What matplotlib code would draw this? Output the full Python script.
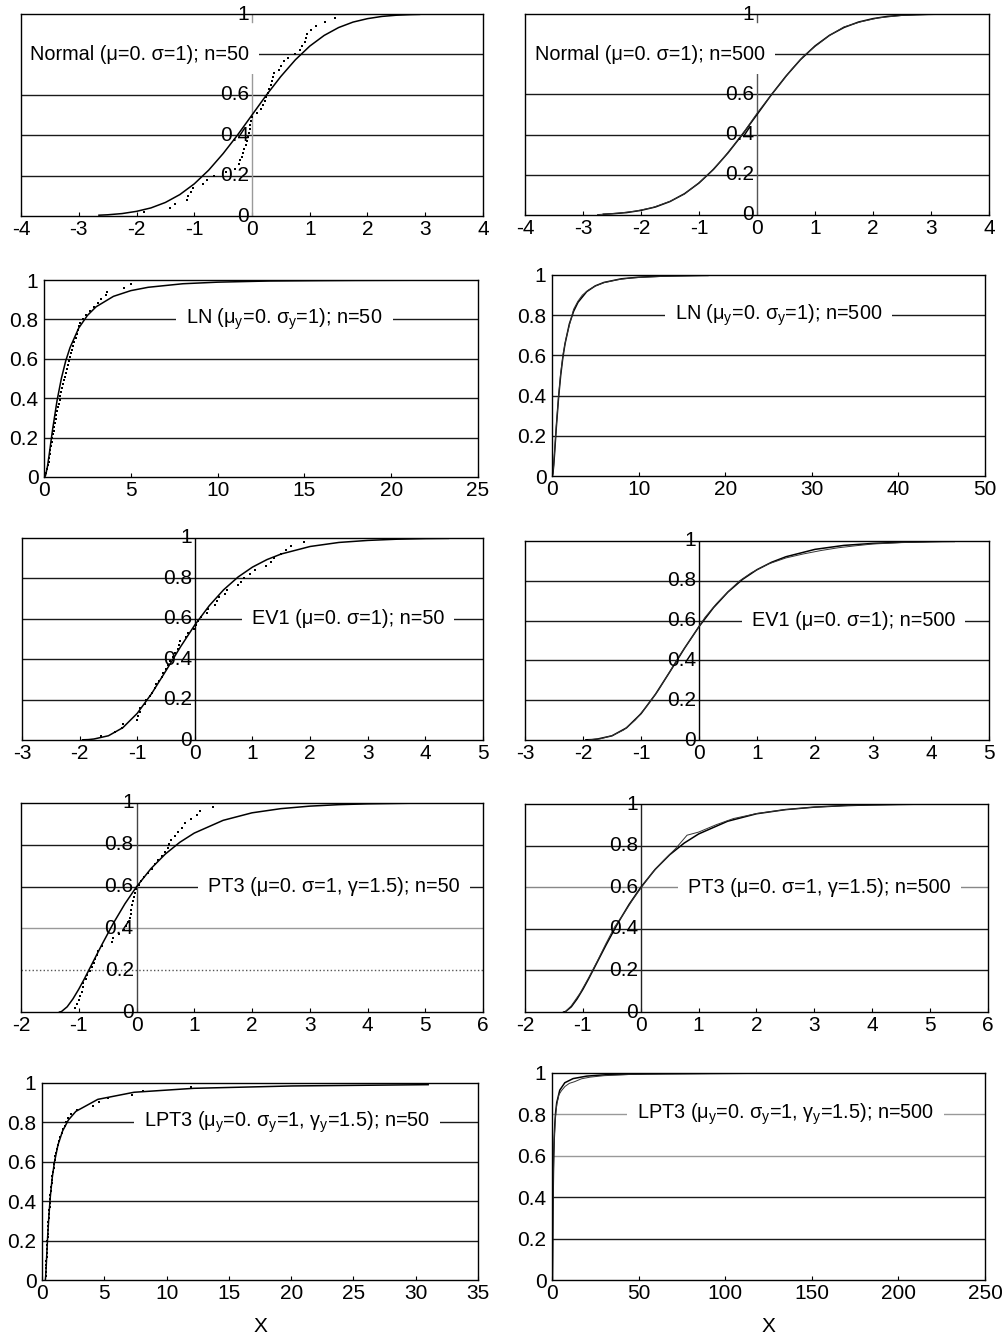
import matplotlib
matplotlib.use('Agg')
import matplotlib.pyplot as plt
import numpy as np

plt.rcParams['font.family'] = ['Liberation Sans', 'DejaVu Sans']
plt.rcParams['mathtext.fontset'] = 'custom'
plt.rcParams['mathtext.rm'] = 'Liberation Sans'
plt.rcParams['mathtext.it'] = 'Liberation Sans'
plt.rcParams['axes.unicode_minus'] = False

# plotting positions of the 50 ranked values
pp50 = [0.020, 0.039, 0.059, 0.078, 0.098, 0.118, 0.137, 0.157, 0.176, 0.196,
        0.216, 0.235, 0.255, 0.275, 0.294, 0.314, 0.333, 0.353, 0.373, 0.392,
        0.412, 0.431, 0.451, 0.471, 0.490, 0.510, 0.529, 0.549, 0.569, 0.588,
        0.608, 0.627, 0.647, 0.667, 0.686, 0.706, 0.725, 0.745, 0.765, 0.784,
        0.804, 0.824, 0.843, 0.863, 0.882, 0.902, 0.922, 0.941, 0.961, 0.980]

# ---- Normal
norm_x = [-2.65, -2.5, -2.25, -2, -1.75, -1.5, -1.25, -1, -0.75, -0.5, -0.25, 0,
          0.25, 0.5, 0.75, 1, 1.25, 1.5, 1.75, 2, 2.25, 2.5, 2.75, 2.9, 3.1]
norm_F = [0.004, 0.006, 0.012, 0.023, 0.040, 0.067, 0.106, 0.159, 0.227, 0.309, 0.401, 0.5,
          0.599, 0.691, 0.773, 0.841, 0.894, 0.933, 0.960, 0.977, 0.988, 0.994, 0.997, 0.998, 0.999]
norm50 = [-1.87, -1.42, -1.33, -1.13, -1.10, -1.05, -1.02, -0.84, -0.78, -0.65,
          -0.45, -0.30, -0.22, -0.20, -0.17, -0.15, -0.13, -0.11, -0.09, -0.07,
          -0.05, -0.04, -0.03, -0.02, 0.0, 0.08, 0.15, 0.19, 0.22, 0.25,
          0.28, 0.30, 0.33, 0.34, 0.36, 0.38, 0.46, 0.50, 0.55, 0.63,
          0.74, 0.83, 0.86, 0.92, 0.93, 0.95, 1.03, 1.10, 1.26, 1.44]
norm500_x = [-2.75, -2.4, -2.1, -1.8, -1.5, -1.25, -1.0, -0.8, -0.6, -0.4, -0.2, 0.0,
             0.2, 0.4, 0.6, 0.8, 1.0, 1.25, 1.5, 1.8, 2.1, 2.5, 3.1]
norm500_F = [0.002, 0.009, 0.019, 0.037, 0.068, 0.104, 0.161, 0.214, 0.276, 0.348, 0.423, 0.506,
             0.581, 0.652, 0.726, 0.790, 0.838, 0.893, 0.936, 0.962, 0.981, 0.993, 0.999]

# ---- Lognormal
ln_x = [0, 0.05, 0.1, 0.2, 0.3, 0.4, 0.5, 0.75, 1, 1.25, 1.5, 2, 2.5, 3, 4, 5, 6, 8,
        10, 13, 16, 18, 22]
ln_F = [0, 0.001, 0.011, 0.054, 0.114, 0.180, 0.244, 0.387, 0.5, 0.589, 0.657, 0.756,
        0.820, 0.864, 0.917, 0.946, 0.963, 0.981, 0.989, 0.995, 0.997, 0.998, 0.999]
ln50 = [0.12, 0.17, 0.22, 0.26, 0.30, 0.34, 0.37, 0.40, 0.44, 0.47,
        0.50, 0.55, 0.59, 0.63, 0.68, 0.72, 0.77, 0.81, 0.86, 0.90,
        0.95, 1.00, 1.05, 1.10, 1.15, 1.20, 1.26, 1.31, 1.37, 1.42,
        1.48, 1.55, 1.62, 1.68, 1.75, 1.82, 1.88, 1.95, 2.02, 2.10,
        2.25, 2.40, 2.65, 2.90, 3.10, 3.30, 3.55, 3.65, 4.60, 5.00]
ln500_x = [0.05, 0.15, 0.3, 0.5, 0.75, 1.0, 1.3, 1.6, 2.0, 2.5, 3.0, 3.5, 4.2, 5.0,
           6.0, 7.5, 9.0, 11, 14, 18]
ln500_F = [0.001, 0.03, 0.12, 0.25, 0.39, 0.51, 0.61, 0.68, 0.75, 0.83, 0.87, 0.90, 0.925,
           0.945, 0.962, 0.976, 0.985, 0.99, 0.995, 0.998]

# ---- EV1
ev_x = [-1.95, -1.85, -1.75, -1.5, -1.25, -1, -0.75, -0.5, -0.25, 0, 0.25, 0.5, 0.75,
        1, 1.25, 1.5, 2, 2.5, 3, 3.5, 4, 4.4]
ev_F = [0.001, 0.002, 0.005, 0.021, 0.061, 0.132, 0.230, 0.344, 0.461, 0.570, 0.665,
        0.744, 0.807, 0.856, 0.893, 0.921, 0.958, 0.978, 0.988, 0.994, 0.997, 0.998]
ev50 = [-1.63, -1.38, -1.27, -1.24, -1.00, -0.98, -0.96, -0.95, -0.86, -0.84,
        -0.78, -0.75, -0.70, -0.67, -0.62, -0.57, -0.55, -0.50, -0.46, -0.43,
        -0.38, -0.35, -0.30, -0.28, -0.25, -0.16, -0.12, -0.02, 0.02, 0.06,
        0.10, 0.21, 0.22, 0.35, 0.38, 0.42, 0.52, 0.56, 0.75, 0.80,
        0.86, 0.95, 1.05, 1.23, 1.32, 1.38, 1.50, 1.58, 1.66, 1.90]
ev500_x = [-1.9, -1.7, -1.5, -1.3, -1.1, -0.9, -0.7, -0.5, -0.3, -0.1, 0.1, 0.3, 0.5,
           0.7, 0.9, 1.2, 1.5, 1.8, 2.1, 2.4, 2.7, 3.0, 3.5, 4.0, 4.4]
ev500_F = [0.001, 0.006, 0.022, 0.05, 0.10, 0.17, 0.25, 0.345, 0.44, 0.525, 0.615, 0.685,
           0.745, 0.80, 0.84, 0.885, 0.915, 0.935, 0.952, 0.966, 0.976, 0.985, 0.992,
           0.996, 0.999]

# ---- PT3
pt_x = [-1.333, -1.3, -1.2, -1.1, -1, -0.9, -0.8, -0.6, -0.4, -0.2, 0, 0.25, 0.5,
        0.75, 1, 1.5, 2, 2.5, 3, 3.5, 4, 4.75]
pt_F = [0, 0.002, 0.025, 0.063, 0.109, 0.160, 0.214, 0.322, 0.425, 0.518, 0.599,
        0.686, 0.756, 0.812, 0.856, 0.917, 0.953, 0.973, 0.985, 0.992, 0.996, 0.999]
pt50 = [-1.06, -1.03, -1.00, -0.97, -0.95, -0.93, -0.92, -0.88, -0.85, -0.80,
        -0.77, -0.74, -0.71, -0.68, -0.66, -0.60, -0.42, -0.40, -0.30, -0.22,
        -0.18, -0.14, -0.12, -0.10, -0.09, -0.07, -0.06, -0.05, -0.03, -0.01,
        0.04, 0.08, 0.13, 0.20, 0.26, 0.32, 0.38, 0.44, 0.50, 0.54,
        0.57, 0.60, 0.66, 0.71, 0.78, 0.84, 0.94, 1.05, 1.10, 1.33]
pt500_x = [-1.3, -1.2, -1.05, -0.9, -0.75, -0.6, -0.45, -0.3, -0.15, 0.0, 0.2, 0.4,
           0.6, 0.8, 1.0, 1.3, 1.6, 2.0, 2.5, 3.0, 3.6, 4.3, 4.8]
pt500_F = [0.002, 0.03, 0.09, 0.165, 0.245, 0.33, 0.41, 0.47, 0.535, 0.595, 0.67, 0.73,
           0.785, 0.85, 0.865, 0.90, 0.93, 0.954, 0.973, 0.985, 0.993, 0.997, 0.999]

# ---- LPT3
lpt_x = [0.264, 0.273, 0.301, 0.333, 0.368, 0.407, 0.449, 0.549, 0.670, 0.819, 1.0,
         1.284, 1.649, 2.117, 2.718, 4.482, 7.389, 12.18, 20.09, 31.0, 54.6, 115.6, 210]
lpt_F = [0, 0.002, 0.025, 0.063, 0.109, 0.160, 0.214, 0.322, 0.425, 0.518, 0.599,
         0.686, 0.756, 0.812, 0.856, 0.917, 0.953, 0.973, 0.985, 0.9915, 0.996, 0.999, 0.9995]
lpt50 = [0.30, 0.31, 0.33, 0.34, 0.36, 0.375, 0.39, 0.41, 0.42, 0.44,
         0.45, 0.47, 0.49, 0.50, 0.52, 0.54, 0.56, 0.58, 0.61, 0.63,
         0.66, 0.68, 0.71, 0.74, 0.77, 0.80, 0.84, 0.88, 0.93, 0.97,
         1.02, 1.08, 1.15, 1.21, 1.28, 1.38, 1.48, 1.58, 1.72, 1.86,
         1.95, 2.05, 2.30, 2.80, 4.10, 4.60, 5.30, 7.20, 8.10, 12.0]
lpt500_x = [0.27, 0.3, 0.4, 0.55, 0.75, 1.0, 1.4, 2.0, 2.8, 4.0, 5.5, 7.5, 10, 13, 17,
            22, 30, 45, 65, 100, 150, 210]
lpt500_F = [0.002, 0.03, 0.15, 0.32, 0.48, 0.6, 0.7, 0.79, 0.85, 0.895, 0.915, 0.935,
            0.95, 0.958, 0.972, 0.98, 0.987, 0.993, 0.996, 0.998, 0.9993, 0.9997]

W, H = 1003, 1336
fig = plt.figure(figsize=(W / 100, H / 100), dpi=100)

TICK_FS = 15
LAB_FS = 14.3

# (left, right, top, bottom) in pixels, label, settings
panels = [
    dict(box=(21, 483, 14, 216), th=(norm_x, norm_F), xmax=2.9, s=(norm50, pp50), dots=True,
         xlim=(-4, 4), step=1, zero=True, vseg=[(0, 0.72), (0.96, 1)], vc='#9a9a9a',
         hide=['0.8'], lab='Normal (μ=0. σ=1); n=50', lx=-3.84, ly=0.8),
    dict(box=(525, 989, 14, 215), th=(norm_x, norm_F), xmax=3.1, s=(norm500_x, norm500_F), dots=False,
         xlim=(-4, 4), step=1, zero=True, vseg=[(0, 0.72), (0.96, 1)], vc='#555555',
         hide=['0.8'], lab='Normal (μ=0. σ=1); n=500', lx=-3.83, ly=0.8),
    dict(box=(44, 478, 280, 477), th=(ln_x, ln_F), xmax=22, s=(ln50, pp50), dots=True,
         xlim=(0, 25), step=5, zero=False,
         lab=r'LN ($\mu_y$=0. $\sigma_y$=1); n=50', lx=8.2, ly=0.8),
    dict(box=(552, 985, 275, 476), th=(ln_x, ln_F), xmax=18, s=(ln500_x, ln500_F), dots=False,
         xlim=(0, 50), step=10, zero=False,
         lab=r'LN ($\mu_y$=0. $\sigma_y$=1); n=500', lx=14.2, ly=0.8),
    dict(box=(22, 483, 538, 740), th=(ev_x, ev_F), xmax=4.4, s=(ev50, pp50), dots=True,
         xlim=(-3, 5), step=1, zero=True, vseg=[(0, 1)], vc='k',
         lab='EV1 (μ=0. σ=1); n=50', lx=0.99, ly=0.6),
    dict(box=(525, 989, 541, 740), th=(ev_x, ev_F), xmax=4.4, s=(ev500_x, ev500_F), dots=False,
         xlim=(-3, 5), step=1, zero=True, vseg=[(0, 1)], vc='k',
         lab='EV1 (μ=0. σ=1); n=500', lx=0.91, ly=0.6),
    dict(box=(21, 483, 803, 1012), th=(pt_x, pt_F), xmax=4.75, s=(pt50, pp50), dots=True,
         xlim=(-2, 6), step=1, zero=True, vseg=[(0, 1)], vc='#444444',
         grid={0.4: ('#999999', '-'), 0.2: ('#555555', ':')},
         lab='PT3 (μ=0. σ=1, γ=1.5); n=50', lx=1.24, ly=0.6),
    dict(box=(525, 988, 804, 1012), th=(pt_x, pt_F), xmax=4.75, s=(pt500_x, pt500_F), dots=False,
         xlim=(-2, 6), step=1, zero=True, vseg=[(0, 1)], vc='#222222',
         grid={0.6: ('#888888', '-')},
         lab='PT3 (μ=0. σ=1, γ=1.5); n=500', lx=0.82, ly=0.6),
    dict(box=(42, 478, 1083, 1280), th=(lpt_x, lpt_F), xmax=31, s=(lpt50, pp50), dots=True,
         xlim=(0, 35), step=5, zero=False,
         lab=r'LPT3 ($\mu_y$=0. $\sigma_y$=1, $\gamma_y$=1.5); n=50', lx=8.15, ly=0.8),
    dict(box=(552, 985, 1073, 1280), th=(lpt_x, lpt_F), xmax=210, s=(lpt500_x, lpt500_F), dots=False,
         xlim=(0, 250), step=50, zero=False,
         grid={0.6: ('#999999', '-'), 0.8: ('#999999', '-')},
         lab=r'LPT3 ($\mu_y$=0. $\sigma_y$=1, $\gamma_y$=1.5); n=500', lx=48.9, ly=0.8),
]

yticks = [0, 0.2, 0.4, 0.6, 0.8, 1]
ylabels = ['0', '0.2', '0.4', '0.6', '0.8', '1']

for p in panels:
    l, r, t, b = p['box']
    ax = fig.add_axes([l / W, 1 - b / H, (r - l) / W, (b - t) / H])
    ax.set_xlim(*p['xlim'])
    ax.set_ylim(0, 1)
    for sp in ax.spines.values():
        sp.set_linewidth(1.0)
        sp.set_zorder(6)

    grid = p.get('grid', {})
    for g in [0.2, 0.4, 0.6, 0.8]:
        c, ls = grid.get(g, ('#1a1a1a', '-'))
        ax.axhline(g, color=c, lw=1.0, ls=ls, zorder=1)

    tx = np.array(p['th'][0])
    tF = np.array(p['th'][1])
    keep = tx <= p['xmax']
    ax.plot(tx[keep], tF[keep], color='k', lw=1.1, zorder=3)

    sx, sF = p['s']
    if p['dots']:
        ax.plot(sx, sF, 's', ms=1.7, mew=0, color='k', zorder=3)
    else:
        ax.plot(sx, sF, '-', lw=0.7, color='#333333', zorder=3)

    xt = np.arange(p['xlim'][0], p['xlim'][1] + p['step'] / 2, p['step'])
    ax.set_xticks(xt)
    ax.set_xticklabels([str(int(v)) for v in xt])
    ax.tick_params(axis='x', direction='in', length=3, width=0.8, labelsize=TICK_FS, pad=3)

    if p['zero']:
        ax.set_yticks([])
        for a, bb in p['vseg']:
            ax.axvline(0, ymin=a, ymax=bb, color=p['vc'], lw=1.0, zorder=2)
        for v, s in zip(yticks, ylabels):
            if s in p.get('hide', []):
                continue  # covered by the label box in the original
            ax.annotate(s, (0, v), xytext=(-2, 0), textcoords='offset points',
                        ha='right', va='center', fontsize=TICK_FS, zorder=4,
                        annotation_clip=False)
    else:
        ax.set_yticks(yticks)
        ax.set_yticklabels(ylabels)
        ax.tick_params(axis='y', length=0, labelsize=TICK_FS, pad=4)

    ax.text(p['lx'], p['ly'], p['lab'], ha='left', va='center', fontsize=LAB_FS, zorder=5,
            bbox=dict(boxstyle='square,pad=0.5', fc='white', ec='none'))

fig.text((42 + 478) / 2 / W, 1 - 1327 / H, 'X', ha='center', va='center', fontsize=15)
fig.text((552 + 985) / 2 / W, 1 - 1327 / H, 'X', ha='center', va='center', fontsize=15)

fig.savefig('out.png', dpi=100)
